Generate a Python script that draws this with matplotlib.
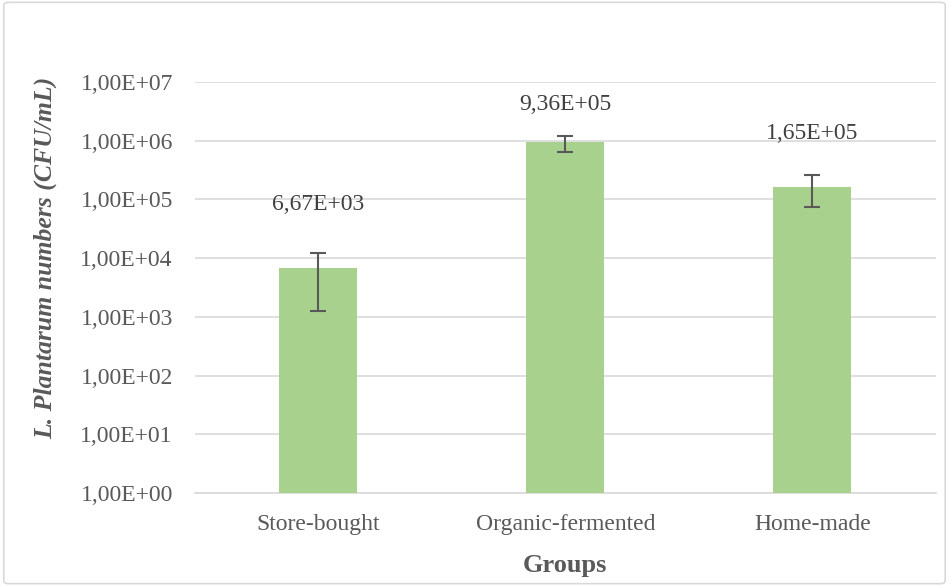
import math
import matplotlib
matplotlib.use('Agg')
import matplotlib.pyplot as plt
from matplotlib.patches import FancyBboxPatch
from matplotlib.ticker import FixedLocator, FuncFormatter

groups = ["Store-bought", "Organic-fermented", "Home-made"]
counts = [6.67e3, 9.36e5, 1.65e5]
errors = [5.4e3, 2.9e5, 9.2e4]
value_labels = ["6,67E+03", "9,36E+05", "1,65E+05"]
label_y = [10**4.915, 10**6.613, 10**6.124]

plt.rcParams['font.family'] = ['Liberation Serif', 'DejaVu Serif']
txt = '#595959'

fig = plt.figure(figsize=(9.49, 5.86), dpi=100)
ax = fig.add_axes([0.2055, 0.1587, 0.7805, 0.7013])

x = range(len(groups))
ax.bar(x, counts, width=0.316, color='#A9D18E', zorder=3)
ax.errorbar(x, counts, yerr=errors, fmt='none', ecolor='#595959',
            elinewidth=1.5, capsize=6, capthick=1.5, zorder=4)

for i, (lab, ly) in enumerate(zip(value_labels, label_y)):
    ax.text(i, ly, lab, ha='center', va='center', fontsize=17, color='#404040')

ax.set_yscale('log')
ax.set_ylim(1, 1e7)
ax.set_xlim(-0.5, 2.5)
ax.yaxis.set_major_locator(FixedLocator([10**k for k in range(8)]))
ax.yaxis.set_minor_locator(FixedLocator([]))
ax.yaxis.set_major_formatter(FuncFormatter(lambda v, p: "1,00E+%02d" % round(math.log10(v))))
ax.grid(axis='y', color='#D9D9D9', linewidth=1.2, zorder=0)
ax.set_xticks(list(x))
ax.set_xticklabels(groups)
ax.tick_params(axis='both', length=0, labelsize=17, colors=txt)
ax.tick_params(axis='y', pad=16)
ax.tick_params(axis='x', pad=15)
for s in ['top', 'right', 'left']:
    ax.spines[s].set_visible(False)
ax.spines['bottom'].set_color('#D9D9D9')
ax.spines['bottom'].set_linewidth(1.2)

ax.set_xlabel("Groups", fontsize=19, fontweight='bold', color=txt, labelpad=14)
ax.set_ylabel("L. Plantarum numbers (CFU/mL)", fontsize=18.5, fontweight='bold',
              fontstyle='italic', color=txt)
ax.yaxis.set_label_coords(-0.186, 0.572)

border = FancyBboxPatch((0.004, 0.004), 0.992, 0.992, boxstyle='round,pad=0,rounding_size=0.005',
                        transform=fig.transFigure, fill=False, edgecolor='#D9D9D9', linewidth=1.2)
fig.patches.append(border)

fig.savefig('out.png', dpi=100)
